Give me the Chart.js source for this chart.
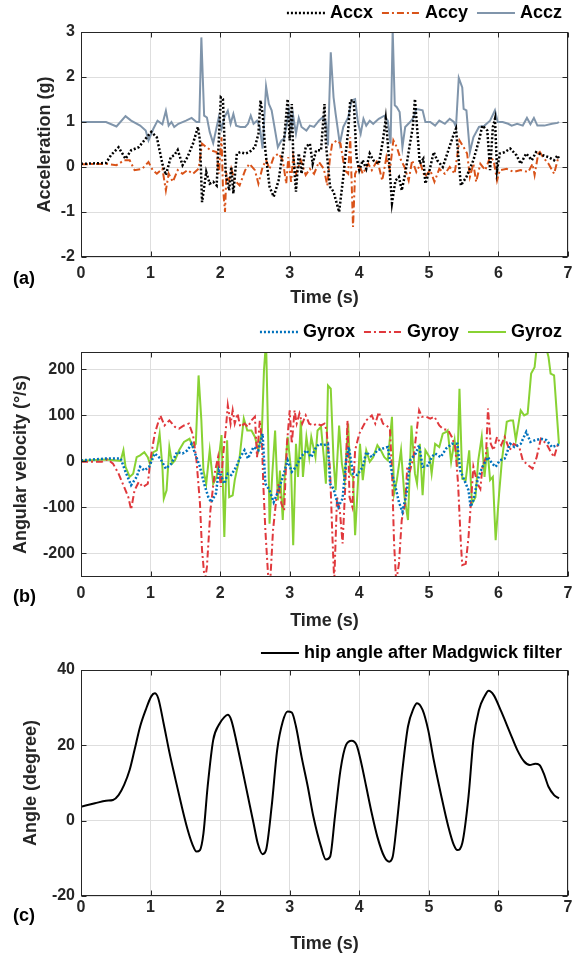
<!DOCTYPE html>
<html>
<head>
<meta charset="utf-8">
<script src="https://cdn.jsdelivr.net/npm/chart.js@4.4.1/dist/chart.umd.min.js"></script>
<style>
  body { margin: 0; background: #fff; width: 572px; height: 955px; position: relative; overflow: hidden; }
  canvas { position: absolute; left: 0; }
  .tag { position: absolute; left: 13px; font: bold 18px "Liberation Sans", Arial, sans-serif; color: #000; line-height: 21px; }
</style>
</head>
<body>
<canvas id="accChart" width="572" height="310" style="top:0"></canvas>
<canvas id="gyroChart" width="572" height="326" style="top:310px"></canvas>
<canvas id="angleChart" width="572" height="319" style="top:636px"></canvas>
<div class="tag" style="top:268px">(a)</div>
<div class="tag" style="top:586px">(b)</div>
<div class="tag" style="top:905px">(c)</div>
<script>
// tick values
const timeTicks = [0, 1, 2, 3, 4, 5, 6, 7];
const accTicks = [-2, -1, 0, 1, 2, 3];
const gyroTicks = [-200, -100, 0, 100, 200];
const angleTicks = [-20, 0, 20, 40];

// (a) acceleration, [time s, g]
const accx = [[0,0.07],[0.36,0.09],[0.43,0.26],[0.54,0.44],[0.64,0.18],[0.72,0.37],[0.83,0.44],[0.93,0.63],[1.01,0.78],[1.09,0.66],[1.17,0.07],[1.22,-0.18],[1.29,0.22],[1.34,0.26],[1.39,0.38],[1.46,0.04],[1.53,0.22],[1.61,0.52],[1.68,0.89],[1.71,0.59],[1.74,-0.78],[1.8,-0.11],[1.85,-0.37],[1.9,-0.33],[1.95,-0.41],[2.01,1.55],[2.04,1.51],[2.08,-0.15],[2.13,-0.52],[2.16,0.0],[2.19,-0.59],[2.24,0.3],[2.29,0.33],[2.36,0.3],[2.42,0.33],[2.5,0.44],[2.55,0.74],[2.58,1.48],[2.61,1.18],[2.65,0.37],[2.71,-0.44],[2.77,-0.66],[2.84,-0.3],[2.91,0.44],[2.97,1.51],[3.0,0.59],[3.03,1.4],[3.05,0.3],[3.09,-0.55],[3.13,0.3],[3.17,-0.15],[3.23,0.44],[3.29,0.52],[3.33,0.07],[3.38,0.37],[3.45,0.37],[3.5,1.4],[3.52,0.52],[3.58,-0.44],[3.63,-0.55],[3.71,-1.0],[3.77,-0.22],[3.84,0.81],[3.87,1.48],[3.92,1.48],[3.96,0.22],[4.0,-0.07],[4.05,0.15],[4.1,-0.04],[4.15,0.3],[4.2,0.15],[4.28,0.07],[4.34,0.59],[4.38,1.07],[4.41,0.52],[4.47,-0.8],[4.52,-0.3],[4.57,-0.22],[4.61,-0.52],[4.66,-0.15],[4.72,0.44],[4.77,0.89],[4.8,1.51],[4.83,0.89],[4.87,0.07],[4.92,0.18],[4.95,-0.37],[5.01,-0.07],[5.07,0.33],[5.12,0.15],[5.2,0.0],[5.28,0.37],[5.36,0.74],[5.39,0.85],[5.46,-0.41],[5.54,-0.22],[5.64,0.15],[5.72,0.59],[5.77,0.92],[5.84,0.81],[5.88,-0.07],[5.92,0.89],[5.95,1.07],[5.98,-0.07],[6.02,0.3],[6.09,0.33],[6.17,0.41],[6.26,0.26],[6.32,0.07],[6.4,0.3],[6.48,0.15],[6.54,0.33],[6.64,0.26],[6.72,0.22],[6.8,0.15],[6.85,0.26],[6.87,0.18]];
const accy = [[0,0.06],[0.36,0.07],[0.51,0.04],[0.62,0.15],[0.7,0.15],[0.77,-0.07],[0.88,-0.04],[0.97,0.11],[1.03,-0.07],[1.09,-0.15],[1.17,-0.04],[1.22,-0.52],[1.26,-0.15],[1.32,-0.33],[1.39,-0.07],[1.46,-0.15],[1.53,-0.07],[1.61,-0.15],[1.69,-0.04],[1.74,0.52],[1.8,0.44],[1.87,0.37],[1.95,0.33],[1.98,-0.15],[2.02,0.66],[2.04,-0.44],[2.07,-1.0],[2.09,-0.15],[2.13,-0.3],[2.16,-0.04],[2.21,-0.3],[2.28,-0.41],[2.36,-0.07],[2.42,0.07],[2.5,-0.07],[2.55,-0.37],[2.61,0.0],[2.66,0.15],[2.71,-0.04],[2.77,0.22],[2.84,0.3],[2.9,0.15],[2.95,-0.37],[2.98,0.22],[3.02,-0.33],[3.05,0.22],[3.09,-0.15],[3.16,0.15],[3.23,-0.18],[3.29,-0.04],[3.35,-0.15],[3.42,0.11],[3.49,-0.04],[3.54,-0.41],[3.58,0.22],[3.61,0.52],[3.68,0.59],[3.73,0.52],[3.79,-0.07],[3.84,-0.15],[3.87,0.66],[3.91,-1.33],[3.94,-0.15],[4.0,0.04],[4.05,-0.15],[4.13,0.07],[4.18,-0.07],[4.26,0.15],[4.33,-0.3],[4.39,0.22],[4.44,-0.07],[4.49,0.59],[4.54,0.44],[4.6,0.15],[4.65,0.0],[4.71,-0.3],[4.76,0.15],[4.82,-0.11],[4.88,0.07],[4.94,-0.22],[5.02,-0.07],[5.08,-0.33],[5.15,-0.04],[5.23,-0.15],[5.3,0.0],[5.37,-0.15],[5.44,0.59],[5.5,0.44],[5.55,0.3],[5.59,-0.22],[5.64,0.07],[5.68,-0.33],[5.74,0.07],[5.81,-0.07],[5.88,0.22],[5.93,0.15],[5.98,-0.3],[6.02,-0.07],[6.12,-0.04],[6.22,-0.11],[6.32,-0.07],[6.43,-0.11],[6.49,0.07],[6.52,-0.18],[6.58,0.37],[6.64,0.22],[6.72,0.07],[6.8,-0.15],[6.85,0.15],[6.87,0.22]];
const accz = [[0,1.0],[0.36,1.0],[0.51,0.9],[0.64,1.13],[0.72,1.03],[0.85,0.92],[0.93,0.81],[0.97,0.59],[1.04,0.85],[1.1,1.03],[1.17,0.95],[1.22,1.25],[1.26,0.92],[1.3,1.0],[1.34,0.89],[1.4,0.96],[1.51,1.03],[1.59,1.09],[1.66,1.0],[1.7,1.0],[1.73,2.88],[1.77,1.14],[1.81,1.1],[1.85,0.78],[1.9,0.53],[1.95,0.89],[1.98,1.1],[2.02,0.85],[2.06,1.1],[2.11,1.25],[2.15,0.96],[2.19,1.18],[2.23,0.92],[2.29,0.89],[2.36,0.89],[2.4,0.96],[2.44,1.14],[2.48,0.96],[2.53,1.03],[2.57,0.89],[2.61,0.41],[2.66,1.79],[2.7,1.4],[2.74,1.26],[2.79,0.81],[2.83,0.44],[2.88,0.59],[2.92,0.63],[2.96,0.96],[2.99,1.26],[3.03,0.89],[3.05,1.14],[3.09,0.74],[3.13,1.09],[3.17,0.89],[3.24,0.81],[3.29,0.92],[3.35,0.89],[3.42,1.03],[3.47,1.1],[3.52,1.0],[3.55,0.48],[3.59,2.55],[3.63,1.55],[3.66,1.18],[3.72,0.52],[3.77,0.89],[3.84,1.1],[3.89,1.48],[3.94,1.51],[3.98,1.0],[4.02,0.74],[4.06,1.07],[4.1,0.92],[4.15,1.03],[4.2,0.96],[4.28,1.07],[4.36,1.14],[4.41,1.03],[4.45,0.52],[4.48,3.05],[4.51,1.37],[4.54,1.33],[4.58,1.22],[4.62,0.44],[4.66,0.89],[4.73,1.0],[4.78,1.1],[4.82,1.29],[4.91,1.26],[4.95,1.0],[5.02,1.0],[5.09,0.92],[5.15,1.03],[5.23,0.96],[5.3,1.07],[5.36,1.0],[5.39,0.89],[5.43,1.98],[5.48,1.77],[5.5,1.29],[5.54,1.26],[5.59,0.33],[5.64,0.66],[5.72,0.89],[5.8,0.92],[5.88,1.03],[5.95,1.26],[5.99,1.0],[6.06,1.0],[6.14,0.96],[6.19,0.92],[6.27,0.96],[6.35,0.92],[6.41,1.09],[6.46,0.95],[6.51,1.09],[6.56,0.92],[6.66,0.92],[6.77,0.96],[6.85,0.98],[6.87,1.0]];

// (b) angular velocity, [time s, deg/s]
const gyrox = [[0,2],[0.36,6],[0.57,6],[0.64,-23],[0.72,-52],[0.8,-34],[0.85,-12],[0.91,-20],[0.98,-12],[1.06,17],[1.14,6],[1.22,-16],[1.3,-5],[1.38,20],[1.46,17],[1.53,24],[1.59,38],[1.64,17],[1.71,-12],[1.77,-49],[1.83,-78],[1.87,-89],[1.94,-70],[1.98,-20],[2.02,-34],[2.06,-49],[2.11,-27],[2.16,-30],[2.23,-12],[2.29,9],[2.35,24],[2.4,6],[2.48,31],[2.55,24],[2.61,60],[2.65,-49],[2.71,-63],[2.77,-89],[2.84,-63],[2.9,-34],[2.97,2],[3.03,-23],[3.09,-12],[3.16,9],[3.24,24],[3.31,9],[3.37,28],[3.42,38],[3.49,35],[3.55,38],[3.58,-49],[3.63,-60],[3.7,-99],[3.76,-81],[3.81,2],[3.85,31],[3.91,-27],[3.97,-30],[4.05,-12],[4.1,20],[4.18,9],[4.26,24],[4.34,28],[4.41,31],[4.47,-27],[4.52,-56],[4.57,-89],[4.62,-110],[4.68,-70],[4.73,2],[4.81,17],[4.86,35],[4.91,-12],[4.99,-9],[5.04,9],[5.09,17],[5.17,9],[5.25,28],[5.33,38],[5.41,38],[5.45,-20],[5.51,-41],[5.57,-63],[5.6,-99],[5.64,-85],[5.7,-41],[5.77,-12],[5.85,9],[5.91,-5],[5.96,-12],[6.02,2],[6.09,6],[6.17,38],[6.23,31],[6.32,38],[6.4,64],[6.46,42],[6.53,46],[6.61,49],[6.69,46],[6.77,31],[6.85,35],[6.87,38]];
const gyroy = [[0,-1],[0.3,-1],[0.38,4],[0.46,-5],[0.54,-27],[0.62,-56],[0.68,-78],[0.72,-105],[0.77,-63],[0.83,-45],[0.89,-56],[0.96,-49],[1.0,6],[1.06,60],[1.14,100],[1.2,78],[1.27,89],[1.35,75],[1.41,71],[1.48,78],[1.55,82],[1.61,57],[1.66,2],[1.71,-92],[1.74,-194],[1.78,-262],[1.81,-230],[1.86,-107],[1.92,-27],[1.97,9],[2.01,-56],[2.04,9],[2.08,67],[2.11,122],[2.15,82],[2.18,111],[2.21,82],[2.25,104],[2.29,75],[2.35,82],[2.4,75],[2.45,89],[2.5,97],[2.53,9],[2.57,89],[2.6,46],[2.62,-49],[2.65,-150],[2.69,-250],[2.72,-262],[2.76,-150],[2.81,-78],[2.84,-49],[2.88,-92],[2.92,-107],[2.96,38],[3.0,111],[3.03,38],[3.07,111],[3.1,82],[3.14,104],[3.18,82],[3.23,100],[3.28,82],[3.34,78],[3.39,82],[3.45,78],[3.5,82],[3.53,67],[3.58,-20],[3.61,-150],[3.64,-262],[3.68,-78],[3.72,-107],[3.76,-179],[3.8,-49],[3.83,89],[3.86,-78],[3.9,-99],[3.94,24],[4.0,60],[4.05,75],[4.1,89],[4.18,100],[4.23,82],[4.28,107],[4.34,82],[4.39,78],[4.44,71],[4.47,-20],[4.5,-179],[4.53,-262],[4.57,-223],[4.61,-128],[4.66,-92],[4.69,-12],[4.73,-20],[4.78,9],[4.82,60],[4.86,111],[4.9,97],[4.96,97],[5.02,93],[5.08,97],[5.15,78],[5.2,71],[5.28,67],[5.33,53],[5.38,31],[5.42,-49],[5.46,-179],[5.48,-226],[5.53,-223],[5.57,-165],[5.61,-78],[5.64,-12],[5.7,-49],[5.74,-60],[5.77,-12],[5.82,9],[5.85,115],[5.89,38],[5.93,24],[5.98,53],[6.04,35],[6.09,53],[6.16,24],[6.22,38],[6.3,31],[6.35,2],[6.43,-9],[6.49,-16],[6.55,9],[6.61,49],[6.69,38],[6.74,24],[6.8,9],[6.85,35],[6.87,38]];
const gyroz = [[0,1],[0.36,4],[0.57,1],[0.61,24],[0.64,-12],[0.7,-34],[0.75,-27],[0.8,9],[0.85,13],[0.91,20],[0.96,9],[0.99,-5],[1.04,20],[1.09,24],[1.13,60],[1.17,-12],[1.19,-81],[1.23,-63],[1.27,31],[1.31,-5],[1.35,2],[1.41,24],[1.48,42],[1.56,49],[1.61,31],[1.65,38],[1.69,187],[1.73,89],[1.76,-20],[1.8,-49],[1.85,24],[1.9,-49],[1.95,-34],[2.02,57],[2.06,-165],[2.1,46],[2.13,-78],[2.18,-74],[2.21,-41],[2.28,9],[2.34,93],[2.39,67],[2.45,67],[2.5,53],[2.55,24],[2.6,67],[2.63,198],[2.66,262],[2.69,53],[2.71,-136],[2.75,-27],[2.79,67],[2.83,-85],[2.86,-20],[2.9,-128],[2.93,-27],[2.97,53],[3.02,-20],[3.05,-183],[3.09,38],[3.12,-34],[3.16,89],[3.19,-34],[3.24,53],[3.28,9],[3.31,53],[3.37,9],[3.4,67],[3.45,75],[3.49,9],[3.52,-49],[3.55,165],[3.59,158],[3.63,2],[3.66,-63],[3.71,78],[3.75,-5],[3.79,-41],[3.84,82],[3.87,-27],[3.91,-34],[3.94,-161],[3.98,-49],[4.01,38],[4.05,-41],[4.1,24],[4.15,-1],[4.2,9],[4.26,35],[4.31,24],[4.36,9],[4.41,2],[4.47,97],[4.5,-70],[4.54,-41],[4.6,24],[4.65,-78],[4.7,-128],[4.75,78],[4.8,-27],[4.83,-49],[4.87,38],[4.91,-74],[4.95,24],[5.01,9],[5.04,-27],[5.09,38],[5.15,31],[5.2,60],[5.25,64],[5.27,67],[5.32,-1],[5.37,46],[5.41,-12],[5.44,158],[5.48,-38],[5.53,-41],[5.58,24],[5.62,-92],[5.67,-78],[5.71,2],[5.76,53],[5.8,-34],[5.84,31],[5.88,-41],[5.92,-34],[5.96,-172],[6.01,-70],[6.05,2],[6.12,86],[6.17,89],[6.21,89],[6.25,46],[6.32,111],[6.37,100],[6.42,104],[6.47,191],[6.52,205],[6.56,262],[6.66,262],[6.72,227],[6.75,191],[6.8,187],[6.87,38]];

// (c) hip angle, [time s, degree]
const hipAngle = [[0,3.7],[0.2,4.6],[0.36,5.3],[0.46,5.5],[0.54,6.8],[0.62,9.5],[0.7,13.5],[0.77,18.8],[0.85,25],[0.93,29.4],[1.01,33],[1.06,33.8],[1.11,32.5],[1.19,25.6],[1.27,18.2],[1.35,11.6],[1.44,4.4],[1.53,-2.2],[1.6,-6.2],[1.66,-8.2],[1.71,-7.8],[1.76,-3.4],[1.82,9],[1.9,21.4],[1.98,25.4],[2.06,27.5],[2.11,28.1],[2.16,26.7],[2.24,20.5],[2.32,13.5],[2.4,6.4],[2.48,-0.7],[2.54,-6],[2.61,-8.9],[2.66,-7.8],[2.74,3.7],[2.82,18.8],[2.9,26.3],[2.97,29],[3.03,28.7],[3.09,25],[3.17,17],[3.26,9],[3.34,1.1],[3.45,-6.9],[3.52,-10.3],[3.58,-9.6],[3.65,1.1],[3.73,13.5],[3.81,20.1],[3.89,21.2],[3.96,20.1],[4.03,15.2],[4.1,9],[4.18,1.9],[4.26,-4.3],[4.36,-9.6],[4.43,-10.9],[4.48,-9.6],[4.54,-0.7],[4.62,13.5],[4.7,25],[4.78,29.8],[4.83,31.2],[4.91,29.4],[4.99,24.1],[5.07,16.1],[5.17,7.3],[5.28,-1.6],[5.36,-6.5],[5.41,-7.8],[5.48,-6],[5.57,6.4],[5.64,21.4],[5.72,29.4],[5.8,33],[5.86,34.5],[5.93,33.4],[6.04,29],[6.17,23.2],[6.27,18.8],[6.37,15.7],[6.45,14.8],[6.53,15.1],[6.59,14.8],[6.65,12.6],[6.72,9],[6.8,6.8],[6.87,5.9]];

Chart.defaults.font.family = "'Liberation Sans', Arial, sans-serif";
Chart.defaults.font.weight = 'bold';
Chart.defaults.color = '#262626';

const toXY = arr => arr.map(p => ({ x: p[0], y: p[1] }));

// legend drawn as line sample + label, right aligned, like MATLAB
const lineLegend = {
    id: 'lineLegend',
    afterDraw(chart, args, opts) {
        const ctx = chart.ctx;
        ctx.save();
        ctx.font = "bold 18px 'Liberation Sans', Arial, sans-serif";
        ctx.textBaseline = 'middle';
        let x = opts.right;
        chart.data.datasets.slice().reverse().forEach(ds => {
            x -= ctx.measureText(ds.label).width;
            ctx.fillStyle = '#000';
            ctx.fillText(ds.label, x, opts.y);
            x -= 5;
            ctx.beginPath();
            ctx.setLineDash(ds.borderDash || []);
            ctx.strokeStyle = ds.borderColor;
            ctx.lineWidth = ds.borderWidth;
            ctx.moveTo(x - 38, opts.y);
            ctx.lineTo(x, opts.y);
            ctx.stroke();
            x -= 38 + 9;
        });
        ctx.restore();
    }
};

// box around the axes with inward ticks
const axesBox = {
    id: 'axesBox',
    afterDraw(chart) {
        const { ctx, chartArea: a, scales } = chart;
        const L = Math.round(a.left) + 0.5, R = Math.round(a.right) - 0.5;
        const T = Math.round(a.top) + 0.5, B = Math.round(a.bottom) - 0.5;
        ctx.save();
        ctx.strokeStyle = '#262626';
        ctx.lineWidth = 1;
        ctx.setLineDash([]);
        ctx.strokeRect(L, T, R - L, B - T);
        ctx.beginPath();
        scales.x.ticks.forEach(t => {
            const px = Math.round(scales.x.getPixelForValue(t.value)) + 0.5;
            ctx.moveTo(px, B); ctx.lineTo(px, B - 5);
            ctx.moveTo(px, T); ctx.lineTo(px, T + 5);
        });
        scales.y.ticks.forEach(t => {
            const py = Math.round(scales.y.getPixelForValue(t.value)) + 0.5;
            ctx.moveTo(L, py); ctx.lineTo(L + 5, py);
            ctx.moveTo(R, py); ctx.lineTo(R - 5, py);
        });
        ctx.stroke();
        ctx.restore();
    }
};

function makeOptions(cfg) {
    return {
        responsive: false,
        animation: false,
        layout: { padding: { top: cfg.top, right: 4, left: 0, bottom: 0 } },
        elements: { point: { radius: 0 } },
        plugins: {
            legend: { display: false },
            tooltip: { enabled: false },
            lineLegend: { right: 562, y: cfg.legendY }
        },
        scales: {
            x: {
                type: 'linear',
                min: 0,
                max: 7,
                afterBuildTicks: s => { s.ticks = timeTicks.map(v => ({ value: v })); },
                afterFit: s => { s.height = cfg.xHeight; s.paddingLeft = 0; s.paddingRight = 0; },
                grid: { color: '#dedede', drawTicks: false },
                border: { display: false },
                ticks: { padding: cfg.xPad, font: { size: 16, weight: 'bold' } },
                title: { display: true, text: 'Time (s)', font: { size: 18, weight: 'bold' }, padding: { top: 0, bottom: cfg.titlePad } }
            },
            y: {
                min: cfg.yMin,
                max: cfg.yMax,
                afterBuildTicks: s => { s.ticks = cfg.yTicks.map(v => ({ value: v })); },
                afterFit: s => { s.width = 81; },
                grid: { color: '#dedede', drawTicks: false },
                border: { display: false },
                ticks: { padding: 6, font: { size: 16, weight: 'bold' } },
                title: { display: true, text: cfg.yTitle, font: { size: 18, weight: 'bold' }, padding: { top: cfg.yTitlePad, bottom: 0 } }
            }
        }
    };
}

new Chart(document.getElementById('accChart'), {
    type: 'line',
    data: {
        datasets: [
            { label: 'Accx', data: toXY(accx), borderColor: '#000000', borderWidth: 2.5, borderDash: [2, 2], tension: 0 },
            { label: 'Accy', data: toXY(accy), borderColor: '#D95319', borderWidth: 2, borderDash: [7, 3, 2, 3], tension: 0 },
            { label: 'Accz', data: toXY(accz), borderColor: '#8095AB', borderWidth: 2, tension: 0 }
        ]
    },
    options: makeOptions({ top: 32, legendY: 13, xHeight: 53, xPad: 7, titlePad: 1, yMin: -2, yMax: 3, yTicks: accTicks, yTitle: 'Acceleration (g)', yTitlePad: 34 }),
    plugins: [lineLegend, axesBox]
});

new Chart(document.getElementById('gyroChart'), {
    type: 'line',
    data: {
        datasets: [
            { label: 'Gyrox', data: toXY(gyrox), borderColor: '#0072BD', borderWidth: 2.5, borderDash: [2, 2], tension: 0 },
            { label: 'Gyroy', data: toXY(gyroy), borderColor: '#E0383C', borderWidth: 2, borderDash: [7, 3, 2, 3], tension: 0 },
            { label: 'Gyroz', data: toXY(gyroz), borderColor: '#88D233', borderWidth: 2, tension: 0 }
        ]
    },
    options: makeOptions({ top: 42, legendY: 22, xHeight: 59, xPad: 7, titlePad: 4, yMin: -252, yMax: 238, yTicks: gyroTicks, yTitle: 'Angular velocity (°/s)', yTitlePad: 10 }),
    plugins: [lineLegend, axesBox]
});

new Chart(document.getElementById('angleChart'), {
    type: 'line',
    data: {
        datasets: [
            { label: 'hip angle after Madgwick filter', data: toXY(hipAngle), borderColor: '#000000', borderWidth: 2, cubicInterpolationMode: 'monotone' }
        ]
    },
    options: makeOptions({ top: 34, legendY: 17, xHeight: 59, xPad: 2, titlePad: 0, yMin: -20, yMax: 40, yTicks: angleTicks, yTitle: 'Angle (degree)', yTitlePad: 20 }),
    plugins: [lineLegend, axesBox]
});
</script>
</body>
</html>
